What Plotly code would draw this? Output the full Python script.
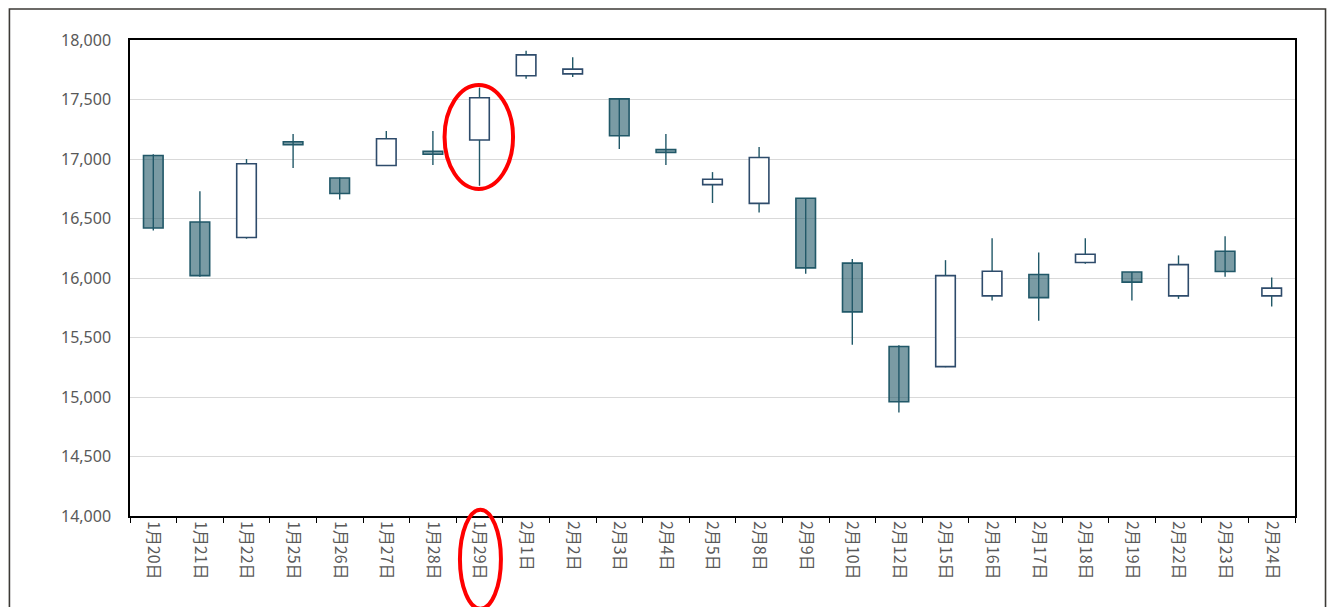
import plotly.graph_objects as go

dates = ["1月20日", "1月21日", "1月22日", "1月25日", "1月26日", "1月27日", "1月28日", "1月29日",
         "2月1日", "2月2日", "2月3日", "2月4日", "2月5日", "2月8日", "2月9日", "2月10日",
         "2月12日", "2月15日", "2月16日", "2月17日", "2月18日", "2月19日", "2月22日", "2月23日", "2月24日"]
opens = [17030, 16470, 16340, 17145, 16840, 16946, 17065, 17160,
         17700, 17715, 17505, 17080, 16785, 16627, 16670, 16125,
         15425, 15255, 15850, 16030, 16130, 16050, 15850, 16225, 15850]
closes = [16420, 16020, 16960, 17120, 16710, 17170, 17040, 17515,
          17875, 17755, 17195, 17055, 16830, 17013, 16085, 15715,
          14960, 16020, 16057, 15835, 16200, 15965, 16112, 16055, 15915]
highs = [17040, 16730, 17000, 17210, 16845, 17235, 17235, 17600,
         17910, 17855, 17510, 17210, 16890, 17100, 16670, 16160,
         15435, 16150, 16335, 16215, 16335, 16050, 16190, 16350, 16005]
lows = [16400, 16010, 16330, 16925, 16660, 16945, 16950, 16775,
        17675, 17690, 17085, 16950, 16630, 16550, 16035, 15440,
        14870, 15250, 15810, 15640, 16120, 15810, 15825, 16010, 15760]
y_ticks = [14000, 14500, 15000, 15500, 16000, 16500, 17000, 17500, 18000]

TEAL = "#215868"
NAVY = "#2e4b6b"
FILL_DOWN = "rgba(33,88,104,0.6)"

# wick segments (for up candles, skip the part hidden behind the white body)
wx, wy = [], []
for d, o, c, h, l in zip(dates, opens, closes, highs, lows):
    if c >= o:
        wx += [d, d, None, d, d, None]
        wy += [l, o, None, c, h, None]
    else:
        wx += [d, d, None]
        wy += [l, h, None]

up_x = [d for d, o, c in zip(dates, opens, closes) if c >= o]
up_base = [o for o, c in zip(opens, closes) if c >= o]
up_len = [c - o for o, c in zip(opens, closes) if c >= o]
dn_x = [d for d, o, c in zip(dates, opens, closes) if c < o]
dn_base = [c for o, c in zip(opens, closes) if c < o]
dn_len = [o - c for o, c in zip(opens, closes) if c < o]

fig = go.Figure()
fig.add_trace(go.Bar(x=up_x, y=up_len, base=up_base, width=0.42,
                     marker=dict(color="white", line=dict(color=NAVY, width=1.6)),
                     showlegend=False, hoverinfo="skip"))
fig.add_trace(go.Bar(x=dn_x, y=dn_len, base=dn_base, width=0.42,
                     marker=dict(color=FILL_DOWN, line=dict(color=TEAL, width=1.6)),
                     showlegend=False, hoverinfo="skip"))
fig.add_trace(go.Scatter(x=wx, y=wy, mode="lines", line=dict(color=TEAL, width=1.4),
                         showlegend=False, hoverinfo="skip", connectgaps=False))

fig.update_layout(
    width=1319, height=599,
    margin=dict(l=122, r=32, t=32, b=91),
    paper_bgcolor="white", plot_bgcolor="white",
    barmode="overlay",
    xaxis=dict(type="category", categoryorder="array", categoryarray=dates,
               range=[-0.5, len(dates) - 0.5],
               tickangle=90, tickson="boundaries", ticks="outside", ticklen=5,
               tickcolor="black", tickwidth=1.2,
               showline=True, linecolor="black", linewidth=1.5, mirror=True,
               showgrid=False,
               tickfont=dict(family="Noto Sans CJK JP", size=16, color="#595959")),
    yaxis=dict(range=[14000, 18000], tickvals=y_ticks, tickformat=",",
               showline=True, linecolor="black", linewidth=1.5, mirror=True,
               showgrid=True, gridcolor="#d9d9d9", gridwidth=1.2,
               zeroline=False, ticks="", ticklabelstandoff=14,
               tickfont=dict(family="Noto Sans", size=16, color="#595959")),
    shapes=[
        dict(type="circle", xref="x", yref="y", x0=6.25, x1=7.72, y0=16748, y1=17622,
             line=dict(color="#ff0000", width=4)),
        dict(type="circle", xref="x", yref="paper", x0=6.58, x1=7.46, y0=-0.195, y1=0.013,
             line=dict(color="#ff0000", width=4)),
        dict(type="rect", xref="paper", yref="paper", x0=-0.1035, x1=1.0262, y0=-0.35, y1=1.065,
             line=dict(color="#3c3a36", width=1.6)),
    ],
)

fig.write_html("out.html")
